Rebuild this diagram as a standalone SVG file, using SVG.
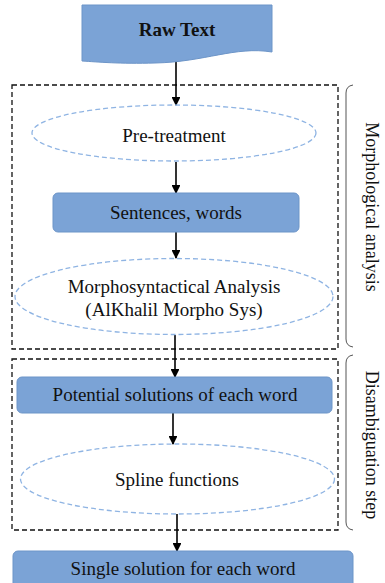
<svg xmlns="http://www.w3.org/2000/svg" width="385" height="583" viewBox="0 0 385 583">
<defs>
<style>
text{font-family:"Liberation Serif","Times New Roman",serif;fill:#111;}
.t{font-size:19px;text-anchor:middle;}
.side{font-size:18px;text-anchor:middle;}
.box{fill:#7ba3d6;stroke:#6d95c8;stroke-width:1;}
.ell{fill:none;stroke:#8fb4e3;stroke-width:1.3;stroke-dasharray:5 3;}
.grp{fill:none;stroke:#111;stroke-width:1.3;stroke-dasharray:5 3;}
.br{fill:none;stroke:#555;stroke-width:1;}
.c{stroke:#000;stroke-width:1.6;fill:none;marker-end:url(#ah);}
</style>
<marker id="ah" viewBox="0 0 10 10" refX="9" refY="5" markerWidth="5.5" markerHeight="5.5" orient="auto" markerUnits="strokeWidth">
<path d="M0,0 L10,5 L0,10 z" fill="#000"/>
</marker>
</defs>
<rect width="385" height="583" fill="#fff"/>

<g id="group-morph">
<rect class="grp" x="12" y="85" width="326" height="264"/>
<path class="br" d="M353,85 Q346,86 346,93 V339 Q346,346 353,347"/>
<text class="side" font-size="17.5" transform="translate(366,207) rotate(90)">Morphological analysis</text>
</g>
<g id="group-disamb">
<rect class="grp" x="12" y="359" width="326" height="171"/>
<path class="br" d="M353,355 Q346,356 346,363 V522 Q346,529 353,530"/>
<text class="side" transform="translate(366,445) rotate(90)">Disambiguation step</text>
</g>

<g id="connectors">
<line class="c" x1="176" y1="60" x2="176" y2="105"/>
<line class="c" x1="176" y1="162" x2="176" y2="193"/>
<line class="c" x1="176" y1="232" x2="176" y2="258"/>
<line class="c" x1="175" y1="335" x2="175" y2="377"/>
<line class="c" x1="173" y1="413" x2="173" y2="444"/>
<line class="c" x1="177" y1="514" x2="177" y2="551"/>
</g>

<g id="raw-text">
<path class="box" d="M82,5 H272 V52 C235,46 205,62 155,63 C120,64 98,62 82,61 Z"/>
<text class="t" x="177" y="36" font-weight="bold" font-size="18">Raw Text</text>
</g>
<g id="pre-treatment">
<ellipse class="ell" cx="174" cy="133" rx="142" ry="28"/>
<text class="t" x="174" y="142">Pre-treatment</text>
</g>
<g id="sentences-words">
<rect class="box" x="53" y="193" width="246" height="39" rx="5"/>
<text class="t" x="176" y="219">Sentences, words</text>
</g>
<g id="morpho-analysis">
<ellipse class="ell" cx="174" cy="296.5" rx="159" ry="38"/>
<text class="t" x="174" y="293">Morphosyntactical Analysis</text>
<text class="t" x="174" y="316">(AlKhalil Morpho Sys)</text>
</g>
<g id="potential-solutions">
<rect class="box" x="17" y="377" width="315" height="36" rx="5"/>
<text class="t" x="175" y="401">Potential solutions of each word</text>
</g>
<g id="spline">
<ellipse class="ell" cx="177.5" cy="479" rx="157" ry="35"/>
<text class="t" x="177" y="486">Spline functions</text>
</g>
<g id="single-solution">
<rect class="box" x="13" y="551" width="340" height="40" rx="5"/>
<text class="t" x="183" y="575">Single solution for each word</text>
</g>
</svg>
